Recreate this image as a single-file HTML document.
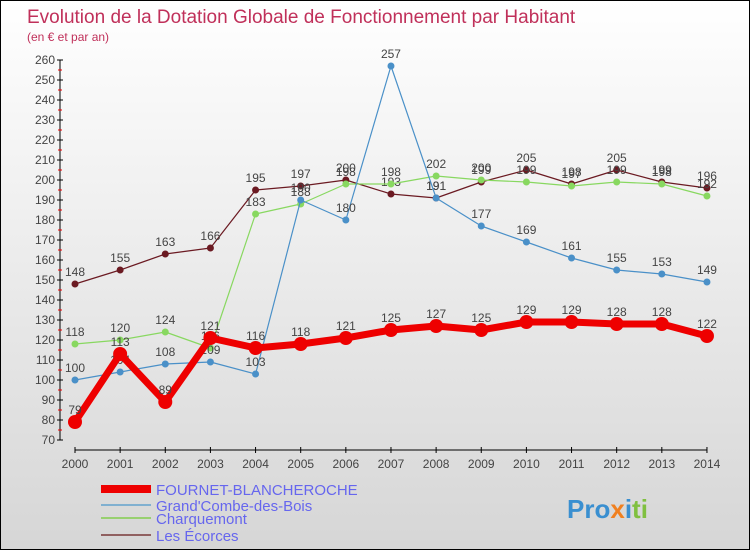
<!DOCTYPE html>
<html><head><meta charset="utf-8"><style>
body{margin:0}
#c{position:relative;width:748px;height:548px;border:1px solid #000;background:linear-gradient(#fff,#d6d6d6);font-family:"Liberation Sans",sans-serif;overflow:hidden}
</style></head><body>
<div id="c">
<svg id="s" width="748" height="548" xmlns="http://www.w3.org/2000/svg">
<text x="26" y="22" font-size="19" fill="#c0305a">Evolution de la Dotation Globale de Fonctionnement par Habitant</text>
<text x="26" y="40" font-size="12" fill="#c0305a">(en € et par an)</text>
<g id="g"></g>
<text x="566" y="517" font-size="26" font-weight="bold" fill="#3a8fd0">Pro<tspan fill="#f08020">x</tspan><tspan fill="#3a8fd0">i</tspan><tspan fill="#80c040">ti</tspan></text>
</svg></div>
<script>
const years=[2000,2001,2002,2003,2004,2005,2006,2007,2008,2009,2010,2011,2012,2013,2014];
const fournet=[79,113,89,121,116,118,121,125,127,125,129,129,128,128,122];
const grandCombe=[100,104,108,109,103,190,180,257,191,177,169,161,155,153,149];
const charquemont=[118,120,124,116,183,188,198,198,202,200,199,197,199,198,192];
const ecorces=[148,155,163,166,195,197,200,193,191,199,205,198,205,199,196];
const yTicks=[70,80,90,100,110,120,130,140,150,160,170,180,190,200,210,220,230,240,250,260];
const NS="http://www.w3.org/2000/svg",g=document.getElementById('g');
const X=i=>74+i*45.14, Y=v=>59+(260-v)*2;
function el(t,a,p){const e=document.createElementNS(NS,t);for(const k in a)e.setAttribute(k,a[k]);(p||g).appendChild(e);return e;}
let a=el('line',{x1:59,y1:Y(260),x2:59,y2:Y(70),stroke:'#000'});


a=el('line',{x1:74,y1:449,x2:X(14),y2:449,stroke:'#000'});


yTicks.forEach(v=>{el('line',{x1:56,y1:Y(v),x2:62,y2:Y(v),stroke:'#000'});
 if(v<260)el('line',{x1:57,y1:Y(v+5),x2:61,y2:Y(v+5),stroke:'#e00'});
 const t=el('text',{x:54,y:Y(v)+4,'text-anchor':'end','font-size':12,fill:'#444'});t.textContent=v;
 
 });
years.forEach((y,i)=>{el('line',{x1:X(i),y1:446,x2:X(i),y2:452,stroke:'#000'});
 const t=el('text',{x:X(i),y:467,'text-anchor':'middle','font-size':12,fill:'#444'});t.textContent=y;
 
 });
function series(d,col,w,r,name){
 const p=el('polyline',{points:d.map((v,i)=>X(i)+','+Y(v)).join(' '),fill:'none',stroke:col,'stroke-width':w,'stroke-linejoin':'round'});
 
 
 d.forEach((v,i)=>{const c=el('circle',{cx:X(i),cy:Y(v),r:r,fill:col});
  
  
  const t=el('text',{x:X(i),y:Y(v)-8,'text-anchor':'middle','font-size':12,fill:'#444'});t.textContent=v;
  
  });
}
series(ecorces,'#6b1a22',1.2,3.5,'les-ecorces');
series(charquemont,'#88d860',1.2,3.5,'charquemont');
series(grandCombe,'#4a90c8',1.2,3.5,'grand-combe');
series(fournet,'#ee0000',7,7,'fournet');
const legend=[['FOURNET-BLANCHEROCHE','#ee0000',8,493],['Grand\'Combe-des-Bois','#80b0d0',2,509],['Charquemont','#98d070',2,522],['Les Écorces','#906060',2,539]];
legend.forEach(l=>{const ln=el('line',{x1:100,y1:l[3]-5,x2:150,y2:l[3]-5,stroke:l[1],'stroke-width':l[2]});
 
 
 const t=el('text',{x:155,y:l[3]+1,'font-size':15,fill:'#6666ee'});t.textContent=l[0];
 
 });
</script></body></html>
